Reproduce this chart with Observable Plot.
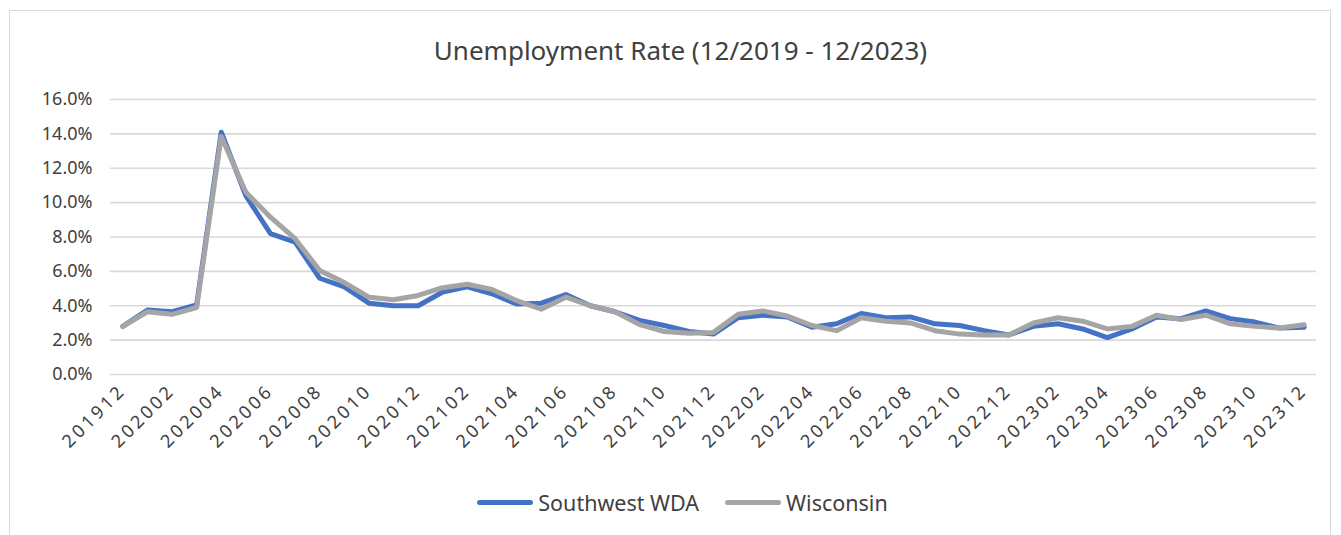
<!DOCTYPE html>
<html>
<head>
<meta charset="utf-8">
<script src="https://cdn.jsdelivr.net/npm/d3@7"></script>
<script src="https://cdn.jsdelivr.net/npm/@observablehq/plot@0.6"></script>
<style>
  html, body { margin: 0; padding: 0; background: #fff; }
  #wrap { position: relative; width: 1341px; height: 535px; overflow: hidden; font-family: "Noto Sans", sans-serif; color: #404040; }
  #frame { position: absolute; left: 9px; top: 10px; width: 1322px; height: 560px; border: 1px solid #d9d9d9; box-sizing: border-box; }
  #title { position: absolute; left: 10px; width: 1341px; top: 33px; text-align: center; font-size: 26px; line-height: 34px; color: #404040; }
  #chart { position: absolute; left: 0; top: 80px; }
  #legend { position: absolute; left: 12px; width: 1341px; top: 488px; display: flex; justify-content: center; align-items: center; font-size: 21.5px; color: #404040; }
  .item { display: flex; align-items: center; margin: 0 13px; }
  .sw { width: 56px; height: 5px; border-radius: 3px; margin-right: 5px; }
</style>
</head>
<body>
<div id="wrap">
  <div id="frame"></div>
  <div id="title">Unemployment Rate (12/2019 - 12/2023)</div>
  <div id="chart"></div>
  <div id="legend"></div>
</div>
<script>
const months = [
  "201912","202001","202002","202003","202004","202005","202006","202007","202008","202009","202010","202011","202012",
  "202101","202102","202103","202104","202105","202106","202107","202108","202109","202110","202111","202112",
  "202201","202202","202203","202204","202205","202206","202207","202208","202209","202210","202211","202212",
  "202301","202302","202303","202304","202305","202306","202307","202308","202309","202310","202311","202312"
];
const southwestWDA = [
  2.8, 3.75, 3.65, 4.05, 14.1, 10.4, 8.2, 7.7, 5.6, 5.1, 4.15, 4.0, 4.0,
  4.8, 5.1, 4.7, 4.1, 4.15, 4.65, 4.0, 3.65, 3.15, 2.85, 2.5, 2.35,
  3.3, 3.45, 3.35, 2.75, 2.95, 3.55, 3.3, 3.35, 2.95, 2.85, 2.55, 2.3,
  2.8, 2.95, 2.65, 2.15, 2.65, 3.35, 3.25, 3.7, 3.25, 3.05, 2.7, 2.75
];
const wisconsin = [
  2.8, 3.65, 3.5, 3.9, 13.85, 10.6, 9.15, 7.9, 6.05, 5.35, 4.5, 4.35, 4.6,
  5.05, 5.25, 4.95, 4.3, 3.8, 4.5, 4.0, 3.65, 2.9, 2.5, 2.4, 2.45,
  3.5, 3.7, 3.4, 2.85, 2.55, 3.3, 3.1, 3.0, 2.55, 2.35, 2.3, 2.3,
  3.0, 3.3, 3.1, 2.65, 2.8, 3.45, 3.2, 3.45, 2.95, 2.8, 2.7, 2.9
];
const seriesNames = ["Southwest WDA", "Wisconsin"];
const seriesColors = ["#4472C4", "#A5A5A5"];
const yTicks = [0, 0.02, 0.04, 0.06, 0.08, 0.10, 0.12, 0.14, 0.16];
const xTickLabels = months.filter((d, i) => i % 2 === 0);

const rows = [];
[southwestWDA, wisconsin].forEach((vals, s) => {
  vals.forEach((v, i) => rows.push({ month: months[i], value: v / 100, series: seriesNames[s] }));
});

const chart = Plot.plot({
  width: 1341,
  height: 400,
  marginLeft: 110,
  marginRight: 25,
  marginTop: 19,
  marginBottom: 106,
  style: { fontFamily: "Noto Sans, sans-serif", fontSize: "18px", color: "#404040", background: "transparent" },
  x: { type: "point", domain: months, padding: 0.5, round: false },
  y: { domain: [0, 0.16] },
  marks: [
    Plot.ruleY(yTicks, { stroke: "#d9d9d9", strokeWidth: 1.6 }),
    Plot.axisY(yTicks, { tickFormat: d3.format(".1%"), tickSize: 0, tickPadding: 18, label: null, fontSize: 18 }),
    Plot.axisX(xTickLabels, { tickRotate: -45, tickSize: 0, tickPadding: 13, label: null, fontSize: 18 }),
    Plot.line(rows.filter(d => d.series === seriesNames[0]), { x: "month", y: "value", stroke: seriesColors[0], strokeWidth: 5, strokeLinejoin: "round", strokeLinecap: "round" }),
    Plot.line(rows.filter(d => d.series === seriesNames[1]), { x: "month", y: "value", stroke: seriesColors[1], strokeWidth: 5, strokeLinejoin: "round", strokeLinecap: "round" })
  ]
});
d3.select(chart).selectAll("g[aria-label='x-axis tick label'] text").style("letter-spacing", "3.2px");
document.getElementById("chart").appendChild(chart);

const legend = document.getElementById("legend");
seriesNames.forEach((name, i) => {
  const item = document.createElement("div");
  item.className = "item";
  const sw = document.createElement("div");
  sw.className = "sw";
  sw.style.background = seriesColors[i];
  const label = document.createElement("span");
  label.textContent = name;
  item.appendChild(sw);
  item.appendChild(label);
  legend.appendChild(item);
});
</script>
</body>
</html>
